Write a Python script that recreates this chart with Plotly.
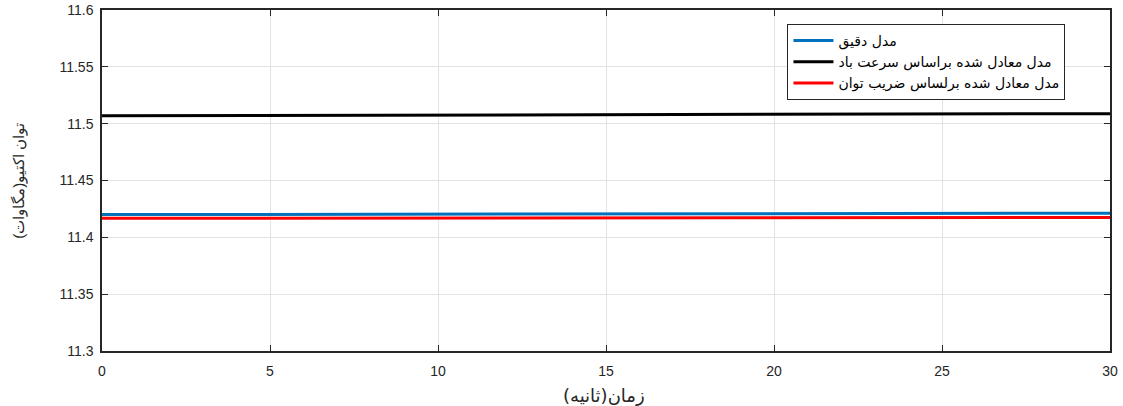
import plotly.graph_objects as go

time_s = [0, 5, 10, 15, 20, 25, 30]
exact_model = [11.4200, 11.4202, 11.4204, 11.4206, 11.4208, 11.4210, 11.4212]
wind_speed_eq = [11.5070, 11.5073, 11.5076, 11.5079, 11.5082, 11.5085, 11.5088]
power_coef_eq = [11.4168, 11.4169, 11.4170, 11.4171, 11.4172, 11.4173, 11.4174]

names = ["مدل دقیق", "مدل معادل شده براساس سرعت باد", "مدل معادل شده برلساس ضریب توان"]
colors = ["#0072BD", "#000000", "#FF0000"]
x_title = "زمان(ثانیه)"
y_title = "توان اکتیو(مگاوات)"

FONT = "Liberation Sans, Arial"
AR_FONT = "DejaVu Sans"

fig = go.Figure()
for y, n, c in zip([exact_model, wind_speed_eq, power_coef_eq], names, colors):
    fig.add_trace(go.Scatter(x=time_s, y=y, mode="lines", name=n,
                             line=dict(color=c, width=3)))

axis_common = dict(showline=True, linecolor="#262626", linewidth=1.5, mirror="ticks",
                   ticks="inside", ticklen=6, tickcolor="#262626", automargin=False,
                   showgrid=True, gridcolor="#E3E3E3", gridwidth=1, zeroline=False,
                   tickfont=dict(family=FONT, size=14, color="#262626"))

fig.update_layout(
    width=1123, height=406,
    margin=dict(l=102, r=13, t=10, b=55),
    paper_bgcolor="white", plot_bgcolor="white",
    showlegend=True,
    legend=dict(x=0.680, y=0.959, xanchor="left", yanchor="top",
                bgcolor="white", bordercolor="#262626", borderwidth=1,
                font=dict(family=AR_FONT, size=14, color="#000000"),
                itemwidth=40),
    xaxis=dict(range=[0, 30], tickvals=[0, 5, 10, 15, 20, 25, 30], ticklabelstandoff=6,
               **axis_common),
    yaxis=dict(range=[11.3, 11.6], tickvals=[11.3, 11.35, 11.4, 11.45, 11.5, 11.55, 11.6],
               ticktext=["11.3", "11.35", "11.4", "11.45", "11.5", "11.55", "11.6"],
               ticklabelstandoff=4,
               **axis_common),
    annotations=[
        dict(text=x_title, xref="paper", yref="paper", x=0.498, y=-0.131,
             xanchor="center", yanchor="middle", showarrow=False,
             font=dict(family=AR_FONT, size=18, color="#262626")),
        dict(text=y_title, xref="paper", yref="paper", x=-0.083, y=0.5,
             xanchor="center", yanchor="middle", showarrow=False, textangle=-90,
             font=dict(family=FONT, size=15, color="#262626")),
    ],
)

fig.write_html("out.html", config={"displayModeBar": False},
               post_script="document.body.style.margin='0';")
